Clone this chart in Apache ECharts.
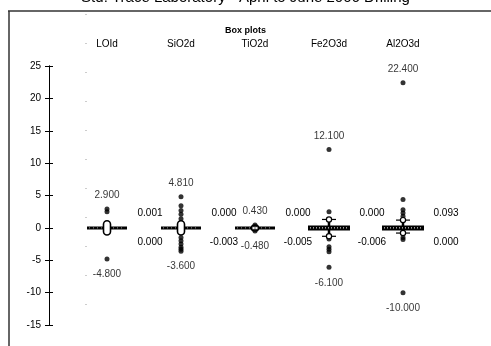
<!DOCTYPE html>
<html>
<head>
<meta charset="utf-8">
<title>Box plots</title>
<script src="https://cdn.jsdelivr.net/npm/echarts@6/dist/echarts.min.js"></script>
<style>
  html, body { margin: 0; padding: 0; background: #fff; }
  #chart { width: 491px; height: 346px; }
</style>
</head>
<body>
<div id="chart"></div>
<script>
// Variables shown as columns
const categories = ['LOId', 'SiO2d', 'TiO2d', 'Fe2O3d', 'Al2O3d'];
// Extreme values (labelled)
const maxValues = [2.9, 4.81, 0.43, 12.1, 22.4];
const minValues = [-4.8, -3.6, -0.48, -6.1, -10.0];
// Box statistics
const medians = [0, 0, 0, 0, 0];
const boxLow = [-1.1, -1.1, -0.48, -0.4, -0.4];
const boxHigh = [1.1, 1.1, 0.43, 0.4, 0.4];
const whiskerLow = [-1.1, -1.1, -0.48, -1.3, -0.8];
const whiskerHigh = [1.1, 1.1, 0.43, 1.3, 1.2];
// Summary values printed to the right of each box
const upperStat = [0.001, 0.000, 0.000, 0.000, 0.093];
const lowerStat = [0.000, -0.003, -0.005, -0.006, 0.000];
// Other individual points beyond the box
const outliers = [
  [2.5],
  [3.4, 2.7, 2.1, 1.4, -1.5, -2.0, -2.5, -3.0, -3.3],
  [],
  [2.5, -1.7, -2.9, -3.3, -3.7],
  [4.4, 2.8, 2.3, 1.8, -1.5, -1.8]
];
// Value axis
const yMin = -15, yMax = 25, yStep = 5;

const FONT = '"Liberation Sans", Arial, sans-serif';
const INK = '#000';
const fmt = v => (v < 0 ? '-' : '') + Math.abs(v).toFixed(3);

const boxData = categories.map((c, i) => [
  i, boxLow[i], boxHigh[i], whiskerLow[i], whiskerHigh[i], medians[i], upperStat[i], lowerStat[i]
]);
const pointData = [];
outliers.forEach((arr, i) => arr.forEach(v => pointData.push([i, v])));
const maxData = maxValues.map((v, i) => [i, v]);
const minData = minValues.map((v, i) => [i, v]);

const chart = echarts.init(document.getElementById('chart'), null, { renderer: 'canvas' });

const yAxisBase = {
  type: 'value', min: yMin, max: yMax, interval: yStep,
  offset: 21,
  splitLine: { show: false },
  axisLine: { show: true, lineStyle: { color: INK, width: 1 } }
};

chart.setOption({
  animation: false,
  backgroundColor: '#fff',
  title: [
    {
      text: 'Std. Trace Laboratory - April to June 2006 Drilling',
      left: 'center', top: -15,
      textStyle: { fontFamily: FONT, fontSize: 15, fontWeight: 'normal', color: INK }
    },
    {
      text: 'Box plots',
      left: 'center', top: 21,
      textStyle: { fontFamily: FONT, fontSize: 9, fontWeight: 'bold', color: INK }
    }
  ],
  grid: { left: 70, right: 51, top: 66, bottom: 21 },
  xAxis: {
    type: 'category', data: categories, position: 'top',
    axisLine: { show: false }, axisTick: { show: false },
    axisLabel: { fontFamily: FONT, fontSize: 10, color: INK, margin: 17 }
  },
  yAxis: [
    Object.assign({}, yAxisBase, {
      axisTick: { show: true, length: 4, lineStyle: { color: INK } },
      axisLabel: { fontFamily: FONT, fontSize: 10, color: INK, margin: 8 }
    }),
    Object.assign({}, yAxisBase, {
      position: 'left',
      axisTick: { show: true, inside: true, length: 4, lineStyle: { color: INK } },
      axisLabel: { show: false }
    })
  ],
  graphic: [
    // frame
    { type: 'line', shape: { x1: 8, y1: 11, x2: 491, y2: 11 }, style: { stroke: '#333', lineWidth: 1.5 } },
    { type: 'line', shape: { x1: 9, y1: 11, x2: 9, y2: 346 }, style: { stroke: '#333', lineWidth: 1.5 } },
    // faint dotted guide
    { type: 'line', shape: { x1: 86, y1: 14, x2: 86, y2: 330 }, style: { stroke: '#999', lineWidth: 1, lineDash: [1, 28] } }
  ],
  series: [
    {
      type: 'custom',
      data: boxData,
      z: 2,
      renderItem: function (params, api) {
        const i = api.value(0);
        const c = api.coord([i, api.value(5)]);
        const lo = api.coord([i, api.value(1)]);
        const hi = api.coord([i, api.value(2)]);
        const wl = api.coord([i, api.value(3)]);
        const wh = api.coord([i, api.value(4)]);
        const children = [];
        // whisker
        children.push({ type: 'line', shape: { x1: c[0], y1: wl[1], x2: c[0], y2: wh[1] }, style: { stroke: INK, lineWidth: 2.5 } });
        const hasCaps = (wh[1] < hi[1] - 2) || (wl[1] > lo[1] + 2);
        if (hasCaps) {
          [wl[1], wh[1]].forEach(y => {
            children.push({ type: 'line', shape: { x1: c[0] - 7, y1: y, x2: c[0] + 7, y2: y }, style: { stroke: INK, lineWidth: 1.2 } });
            children.push({ type: 'circle', shape: { cx: c[0], cy: y, r: 2.6 }, style: { fill: '#fff', stroke: INK, lineWidth: 1.2 } });
          });
          // hatched median band
          children.push({ type: 'rect', shape: { x: c[0] - 21, y: c[1] - 2.5, width: 42, height: 5 }, style: { fill: INK } });
          children.push({ type: 'line', shape: { x1: c[0] - 19, y1: c[1], x2: c[0] + 19, y2: c[1] }, style: { stroke: '#fff', lineWidth: 1, lineDash: [1, 2] } });
        } else {
          children.push({ type: 'rect', shape: { x: c[0] - 20, y: c[1] - 1.5, width: 40, height: 3 }, style: { fill: INK } });
          children.push({ type: 'line', shape: { x1: c[0] - 18, y1: c[1], x2: c[0] + 18, y2: c[1] }, style: { stroke: '#fff', lineWidth: 0.6, lineDash: [1, 3] } });
          // box
          children.push({ type: 'rect', shape: { x: c[0] - 3.5, y: hi[1], width: 7, height: Math.max(lo[1] - hi[1], 5), r: 3.5 }, style: { fill: '#fff', stroke: INK, lineWidth: 1.6 } });
        }
        // summary labels
        children.push({ type: 'text', style: { x: c[0] + 43, y: c[1] - 15, text: fmt(api.value(6)), textAlign: 'center', textVerticalAlign: 'middle', font: '10px ' + FONT, fill: INK } });
        children.push({ type: 'text', style: { x: c[0] + 43, y: c[1] + 14, text: fmt(api.value(7)), textAlign: 'center', textVerticalAlign: 'middle', font: '10px ' + FONT, fill: INK } });
        return { type: 'group', children: children };
      }
    },
    {
      type: 'scatter', data: pointData, symbolSize: 5, z: 1,
      itemStyle: { color: INK }
    },
    {
      type: 'scatter', data: maxData, symbolSize: 5, z: 3,
      itemStyle: { color: INK },
      label: {
        show: true, position: 'top', distance: 6,
        formatter: p => fmt(p.value[1]),
        fontFamily: FONT, fontSize: 10, color: INK
      }
    },
    {
      type: 'scatter', data: minData, symbolSize: 5, z: 3,
      itemStyle: { color: INK },
      label: {
        show: true, position: 'bottom', distance: 8,
        formatter: p => fmt(p.value[1]),
        fontFamily: FONT, fontSize: 10, color: INK
      }
    }
  ]
});
</script>
</body>
</html>
